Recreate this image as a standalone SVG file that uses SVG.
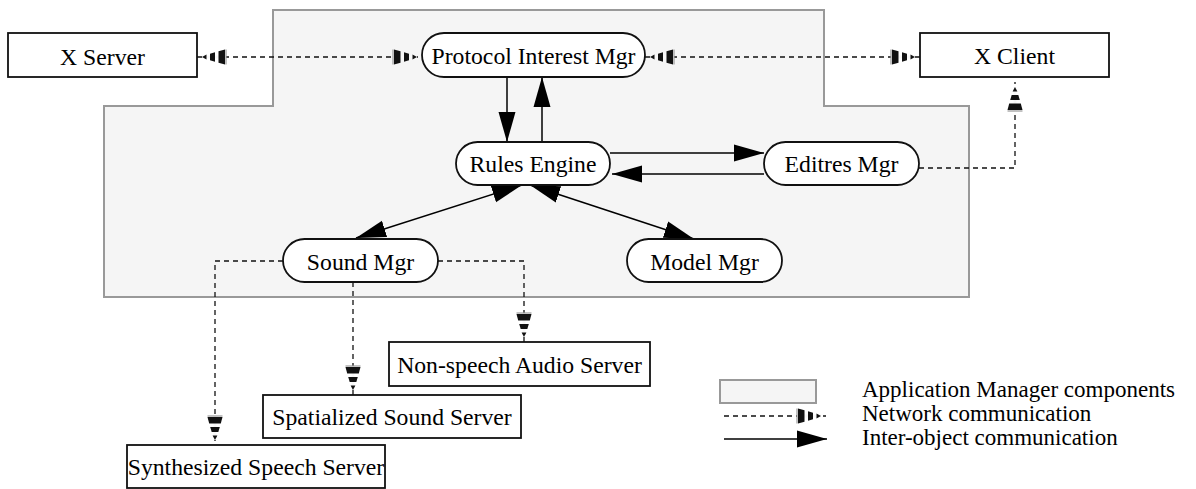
<svg xmlns="http://www.w3.org/2000/svg" width="1196" height="489" viewBox="0 0 1196 489">
<style>
.txt{font-family:"Liberation Serif","Times New Roman",serif;font-size:23.7px;fill:#000}
.leg{font-size:23px}
.mid{text-anchor:middle}
.box{fill:#fff;stroke:#111;stroke-width:1.8}
.area{fill:#f5f5f5;stroke:#999;stroke-width:2}
.solid{fill:none;stroke:#000;stroke-width:1.5}
.net{fill:none;stroke:#111;stroke-width:1.3;stroke-dasharray:5,4}
</style>
<defs>
<marker id="netArrow" viewBox="-3 -10 34 20" markerWidth="34" markerHeight="20" refX="29" refY="0" orient="auto-start-reverse" markerUnits="userSpaceOnUse" overflow="visible">
<rect x="0" y="-1.5" width="24" height="3" fill="#f8f8f8"/>
<line x1="0" y1="-7.5" x2="0" y2="7.5" stroke="#999" stroke-width="1.2"/>
<polygon points="1,-7.5 7.5,-5.8 7.5,5.8 1,7.5" fill="#111"/>
<polygon points="11,-4.8 16,-3.3 16,3.3 11,4.8" fill="#111"/>
<polygon points="19.5,-2.4 24,0 19.5,2.4" fill="#111"/>
</marker>
<marker id="solidArrow" viewBox="0 -9 30 18" markerWidth="30" markerHeight="18" refX="30" refY="0" orient="auto-start-reverse" markerUnits="userSpaceOnUse">
<polygon points="0,-8.5 30,0 0,8.5" fill="#000"/>
</marker>
</defs>

<g id="app-manager-area">
<polygon class="area" points="273,10 824,10 824,106 969,106 969,297 104,297 104,106 273,106"/>
</g>

<g id="connectors">
<path class="net" d="M197,57 H422" marker-start="url(#netArrow)" marker-end="url(#netArrow)"/>
<path class="net" d="M645,57 H920" marker-start="url(#netArrow)" marker-end="url(#netArrow)"/>
<path class="net" d="M919,168 H1015 V82" marker-end="url(#netArrow)"/>
<path class="net" d="M283,261 H215 V445" marker-end="url(#netArrow)"/>
<path class="net" d="M353,282 V395" marker-end="url(#netArrow)"/>
<path class="net" d="M438,261 H524 V342" marker-end="url(#netArrow)"/>
<path class="solid" d="M507,77 V142" marker-end="url(#solidArrow)"/>
<path class="solid" d="M542,142 V77" marker-end="url(#solidArrow)"/>
<path class="solid" d="M610,153 H764" marker-end="url(#solidArrow)"/>
<path class="solid" d="M764,174 H612" marker-end="url(#solidArrow)"/>
<path class="solid" d="M356,238 L522,185" marker-start="url(#solidArrow)" marker-end="url(#solidArrow)"/>
<path class="solid" d="M530,185 L694,239" marker-start="url(#solidArrow)" marker-end="url(#solidArrow)"/>
</g>

<g id="x-server">
<rect class="box" x="8" y="33" width="189" height="44"/>
<text class="txt mid" x="102.5" y="65">X Server</text>
</g>
<g id="protocol-interest-mgr">
<rect class="box" x="422" y="33" width="223" height="44" rx="22" ry="22"/>
<text class="txt mid" x="533.5" y="64">Protocol Interest Mgr</text>
</g>
<g id="x-client">
<rect class="box" x="920" y="33" width="189" height="44"/>
<text class="txt mid" x="1014.5" y="64">X Client</text>
</g>
<g id="rules-engine">
<rect class="box" x="456" y="142" width="154" height="43" rx="21.5" ry="21.5"/>
<text class="txt mid" x="533" y="172">Rules Engine</text>
</g>
<g id="editres-mgr">
<rect class="box" x="764" y="142" width="155" height="43" rx="21.5" ry="21.5"/>
<text class="txt mid" x="841.5" y="172">Editres Mgr</text>
</g>
<g id="sound-mgr">
<rect class="box" x="283" y="239" width="155" height="43" rx="21.5" ry="21.5"/>
<text class="txt mid" x="360.5" y="270">Sound Mgr</text>
</g>
<g id="model-mgr">
<rect class="box" x="627" y="239" width="155" height="43" rx="21.5" ry="21.5"/>
<text class="txt mid" x="704.5" y="270">Model Mgr</text>
</g>
<g id="non-speech-audio-server">
<rect class="box" x="389" y="342" width="261" height="44"/>
<text class="txt mid" x="519.5" y="373">Non-speech Audio Server</text>
</g>
<g id="spatialized-sound-server">
<rect class="box" x="263" y="395" width="258" height="43"/>
<text class="txt mid" x="392" y="425">Spatialized Sound Server</text>
</g>
<g id="synthesized-speech-server">
<rect class="box" x="127" y="445" width="258" height="43"/>
<text class="txt mid" x="256" y="475">Synthesized Speech Server</text>
</g>

<g id="legend">
<rect class="area" x="720" y="380" width="96" height="23"/>
<path class="net" d="M724,416 H826" marker-end="url(#netArrow)"/>
<path class="solid" d="M724,439 H827" marker-end="url(#solidArrow)"/>
<text class="txt leg" x="862" y="397">Application Manager components</text>
<text class="txt leg" x="862" y="421">Network communication</text>
<text class="txt leg" x="862" y="445">Inter-object communication</text>
</g>
</svg>
